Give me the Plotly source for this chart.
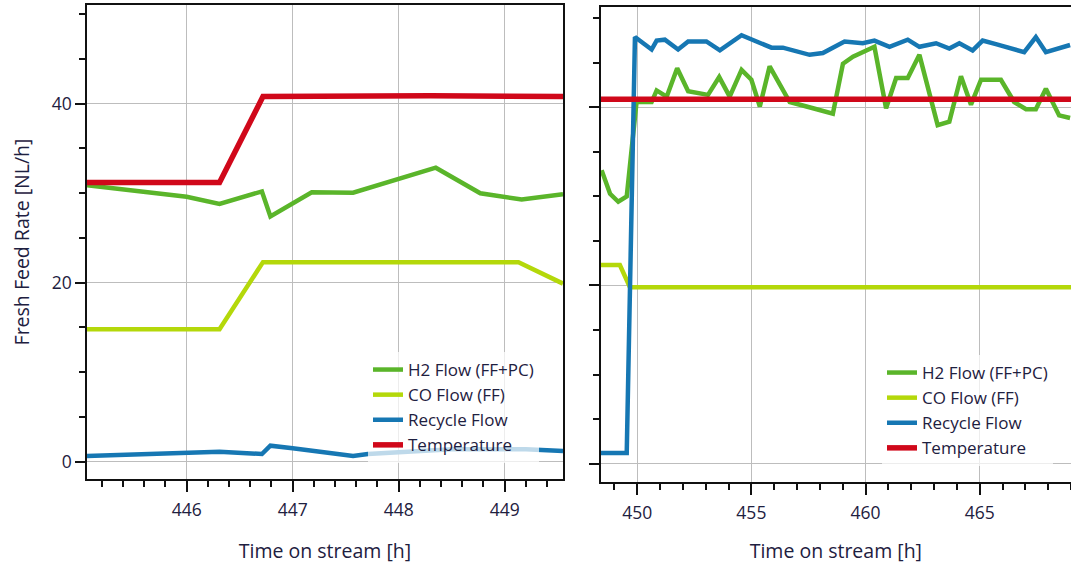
import plotly.graph_objects as go

# ---- Left panel: 445-449.5 h ----
h2_left_t = [445.06, 446.0, 446.31, 446.71, 446.79, 447.18, 447.57, 448.35, 448.77, 449.16, 449.55]
h2_left_v = [30.9, 29.6, 28.8, 30.2, 27.4, 30.1, 30.05, 32.85, 30.0, 29.3, 29.9]

co_left_t = [445.06, 446.31, 446.72, 449.13, 449.55]
co_left_v = [14.8, 14.8, 22.3, 22.3, 19.9]

rec_left_t = [445.06, 446.31, 446.71, 446.79, 447.0, 447.57, 447.71, 448.0, 448.5, 449.2, 449.46, 449.55]
rec_left_v = [0.64, 1.12, 0.86, 1.79, 1.5, 0.64, 0.86, 1.1, 1.4, 1.4, 1.2, 1.2]

temp_left_t = [445.06, 446.31, 446.72, 448.3, 449.55]
temp_left_v = [31.2, 31.2, 40.8, 40.9, 40.8]

# ---- Right panel: 448.4-469 h ----
h2_right_t = [448.44, 448.81, 449.17, 449.54, 449.97, 450.63, 450.85, 451.29, 451.75, 452.23,
              453.10, 453.59, 454.05, 454.57, 455.00, 455.37, 455.80, 456.68, 457.70, 458.57,
              459.01, 459.45, 460.39, 460.90, 461.34, 461.85, 462.36, 463.16, 463.67, 464.18,
              464.62, 465.06, 465.93, 466.51, 467.03, 467.46, 467.90, 468.48, 468.96]
h2_right_v = [32.95, 30.3, 29.4, 30.0, 40.6, 40.6, 41.9, 41.2, 44.4, 41.8,
              41.4, 43.4, 41.2, 44.2, 43.1, 40.1, 44.6, 40.6, 39.9, 39.3,
              44.9, 45.7, 46.8, 39.9, 43.3, 43.3, 45.9, 38.0, 38.4, 43.5,
              40.3, 43.1, 43.1, 40.6, 39.8, 39.8, 42.1, 39.1, 38.8]

co_right_t = [448.40, 449.24, 449.68, 469.0]
co_right_v = [22.3, 22.3, 19.8, 19.8]

rec_right_t = [448.40, 449.54, 449.90, 450.63, 450.85, 451.21, 451.79, 452.23, 453.03, 453.62,
               454.57, 455.37, 455.88, 456.38, 457.55, 458.13, 459.08, 459.88, 460.39, 461.05,
               461.85, 462.36, 463.09, 463.67, 464.11, 464.69, 465.13, 465.71, 466.95, 467.46,
               467.90, 468.96]
rec_right_v = [1.2, 1.2, 47.9, 46.5, 47.5, 47.6, 46.5, 47.4, 47.4, 46.4,
               48.1, 47.3, 46.7, 46.7, 45.9, 46.1, 47.4, 47.2, 47.5, 46.8,
               47.6, 46.8, 47.2, 46.6, 47.2, 46.4, 47.5, 47.1, 46.2, 47.9,
               46.2, 47.0]

temp_right_t = [448.40, 469.0]
temp_right_v = [40.9, 40.9]

series_names = ["H2 Flow (FF+PC)", "CO Flow (FF)", "Recycle Flow", "Temperature"]
colors = ["#5ab52a", "#b4d80a", "#1677b3", "#d0081a"]
widths = [4.5, 4.5, 4.5, 5.5]

left_data = [(h2_left_t, h2_left_v), (co_left_t, co_left_v),
             (rec_left_t, rec_left_v), (temp_left_t, temp_left_v)]
right_data = [(h2_right_t, h2_right_v), (co_right_t, co_right_v),
              (rec_right_t, rec_right_v), (temp_right_t, temp_right_v)]

fig = go.Figure()
for (t, v), name, c, w in zip(left_data, series_names, colors, widths):
    fig.add_trace(go.Scatter(x=t, y=v, mode="lines", name=name,
                             line=dict(color=c, width=w), xaxis="x", yaxis="y",
                             legend="legend"))
for (t, v), name, c, w in zip(right_data, series_names, colors, widths):
    fig.add_trace(go.Scatter(x=t, y=v, mode="lines", name=name,
                             line=dict(color=c, width=w), xaxis="x2", yaxis="y2",
                             legend="legend2"))

FONT = "Open Sans, Noto Sans, sans-serif"
tick_font = dict(family=FONT, size=17.5, color="#1e2040")
title_font = dict(family=FONT, size=19.5, color="#1e2040")
legend_font = dict(family=FONT, size=17, color="#1e2040")
grid = "#bdbdbd"

common_x = dict(showline=True, linecolor="#111111", linewidth=1.5, ticks="outside",
                ticklen=11, tickcolor="#111111", tickwidth=1.5, showgrid=True,
                gridcolor=grid, gridwidth=1, zeroline=False, tickfont=tick_font,
                ticklabelstandoff=3,
                title_font=title_font, title_standoff=27)
common_y = dict(showline=True, linecolor="#111111", linewidth=1.5, ticks="outside",
                ticklen=10, tickcolor="#111111", tickwidth=1.5, showgrid=True,
                gridcolor=grid, gridwidth=1, zeroline=False, tickfont=tick_font,
                dtick=20, tick0=0,
                minor=dict(dtick=5, ticklen=6, tickcolor="#111111", tickwidth=1.5,
                           showgrid=False, ticks="outside"))

W, H = 1071, 564
ml, mr, mt, mb = 87, 0, 5, 82
pw = W - ml - mr
ph = H - mt - mb

fig.update_layout(
    width=W, height=H,
    margin=dict(l=ml, r=mr, t=mt, b=mb),
    paper_bgcolor="white", plot_bgcolor="white",
    font=dict(family=FONT, color="#1e2040"),
    xaxis=dict(common_x, domain=[0, (563 - ml) / pw], range=[445.06, 449.55],
               dtick=1, tick0=446, mirror=True,
               minor=dict(dtick=0.2, tick0=446, ticklen=6, tickcolor="#111111",
                          tickwidth=1.5, showgrid=False, ticks="outside"),
               title_text="Time on stream [h]", anchor="y"),
    yaxis=dict(common_y, domain=[(482 - 479) / ph, 1], range=[-1.93, 51.03],
               mirror=True, anchor="x",
               title_text="Fresh Feed Rate [NL/h]", title_font=title_font,
               title_standoff=17),
    xaxis2=dict(common_x, domain=[(600.7 - ml) / pw, 1], range=[448.4, 469.0],
                dtick=5, tick0=450, mirror=True,
                minor=dict(dtick=1, tick0=450, ticklen=6, tickcolor="#111111",
                           tickwidth=1.5, showgrid=False, ticks="outside"),
                title_text="Time on stream [h]", anchor="y2"),
    yaxis2=dict(common_y, domain=[0, (482 - 7) / ph], range=[-2.07, 51.27],
                mirror=False, anchor="x2", showticklabels=False),
    legend=dict(x=(368 - ml) / pw, y=(482 - 463) / ph, xanchor="left", yanchor="bottom",
                bgcolor="rgba(255,255,255,0.72)", borderwidth=0,
                font=legend_font, tracegroupgap=0),
    legend2=dict(x=(882 - ml) / pw, y=(482 - 466) / ph, xanchor="left", yanchor="bottom",
                 bgcolor="rgba(255,255,255,0.72)", borderwidth=0,
                 font=legend_font, tracegroupgap=0),
)

fig.write_html("out.html")
